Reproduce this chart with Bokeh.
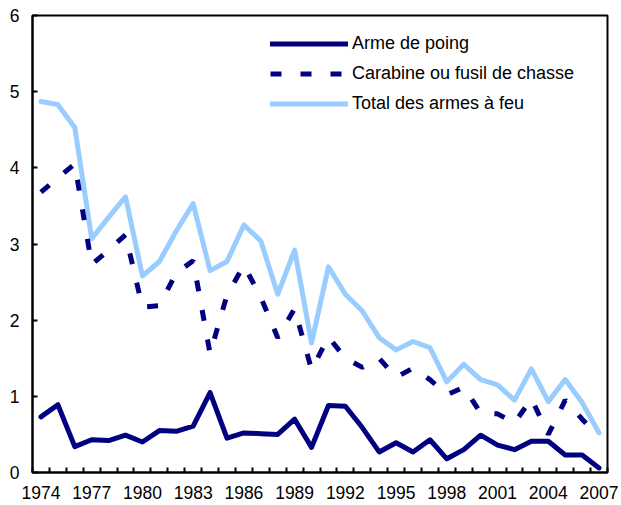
from bokeh.plotting import figure
from bokeh.models import Range1d, FixedTicker, Legend, LegendItem
from bokeh.embed import file_html
from bokeh.resources import INLINE

# ---- data ----
years = list(range(1974, 2008))
label_years = [1974, 1977, 1980, 1983, 1986, 1989, 1992, 1995, 1998, 2001, 2004, 2007]
y_ticks = [0, 1, 2, 3, 4, 5, 6]

handgun = [0.73, 0.89, 0.34, 0.43, 0.42, 0.49, 0.40, 0.55, 0.54, 0.61,
           1.05, 0.45, 0.52, 0.51, 0.50, 0.70, 0.33, 0.88, 0.87, 0.59,
           0.27, 0.39, 0.27, 0.43, 0.18, 0.30, 0.49, 0.36, 0.30, 0.41,
           0.41, 0.23, 0.23, 0.06]
rifle = [3.68, 3.87, 4.05, 2.73, 2.92, 3.12, 2.17, 2.19, 2.62, 2.78,
         1.56, 2.33, 2.72, 2.30, 1.77, 2.15, 1.35, 1.78, 1.50, 1.38,
         1.50, 1.25, 1.37, 1.22, 1.02, 1.12, 0.78, 0.77, 0.65, 0.97,
         0.50, 0.95, 0.70, 0.47]
total = [4.87, 4.83, 4.53, 3.07, 3.35, 3.62, 2.58, 2.77, 3.17, 3.53,
         2.65, 2.77, 3.25, 3.04, 2.34, 2.92, 1.70, 2.70, 2.34, 2.12,
         1.77, 1.61, 1.72, 1.64, 1.19, 1.42, 1.22, 1.15, 0.95, 1.36,
         0.93, 1.22, 0.92, 0.52]
series_labels = ["Arme de poing", "Carabine ou fusil de chasse", "Total des armes à feu"]

NAVY = "#000080"
LIGHT = "#99CCFF"
FONT = "Liberation Sans"

p = figure(width=621, height=505,
           x_range=Range1d(years[0] - 0.5, years[-1] + 0.5),
           y_range=Range1d(y_ticks[0], y_ticks[-1]),
           output_backend="svg", toolbar_location=None,
           min_border_left=32, min_border_right=14, min_border_top=15, min_border_bottom=33)
p.grid.visible = False
p.outline_line_color = "black"
p.outline_line_width = 2
p.outline_line_alpha = 1.0
p.background_fill_color = "white"
p.border_fill_color = "white"

r_total = p.line(years, total, line_color=LIGHT, line_width=5,
                 line_join="round", line_cap="round")
r_rifle = p.line(years, rifle, line_color=NAVY, line_width=5, line_dash="11 19")
r_hand = p.line(years, handgun, line_color=NAVY, line_width=5,
                line_join="round", line_cap="round")

legend = Legend(items=[LegendItem(label=series_labels[0], renderers=[r_hand]),
                       LegendItem(label=series_labels[1], renderers=[r_rifle]),
                       LegendItem(label=series_labels[2], renderers=[r_total])],
                location=(238, 358), orientation="vertical",
                padding=0, margin=0, spacing=9,
                glyph_width=78, glyph_height=21, label_height=21, label_standoff=4,
                label_text_font=FONT, label_text_font_size="18px",
                label_text_color="black",
                border_line_alpha=0, background_fill_alpha=0)
p.add_layout(legend, "center")

# x axis: labels every 3 years, small ticks between years
xa = p.xaxis[0]
xa.ticker = FixedTicker(ticks=label_years, minor_ticks=[y - 0.5 for y in years] + [years[-1] + 0.5])
xa.major_tick_in = 0
xa.major_tick_out = 0
xa.minor_tick_in = 5
xa.minor_tick_out = 0
xa.minor_tick_line_width = 2
xa.minor_tick_line_color = "black"
xa.axis_line_width = 2
xa.axis_line_color = "black"
xa.major_label_text_font = FONT
xa.major_label_text_font_size = "17.5px"
xa.major_label_text_color = "black"
xa.major_label_standoff = 13

ya = p.yaxis[0]
ya.ticker = FixedTicker(ticks=y_ticks)
ya.major_tick_in = 5
ya.major_tick_out = 0
ya.major_tick_line_width = 2
ya.major_tick_line_color = "black"
ya.minor_tick_line_color = None
ya.axis_line_width = 2
ya.axis_line_color = "black"
ya.major_label_text_font = FONT
ya.major_label_text_font_size = "17.5px"
ya.major_label_text_color = "black"
ya.major_label_standoff = 13

open("out.html", "w").write(file_html(p, INLINE))
